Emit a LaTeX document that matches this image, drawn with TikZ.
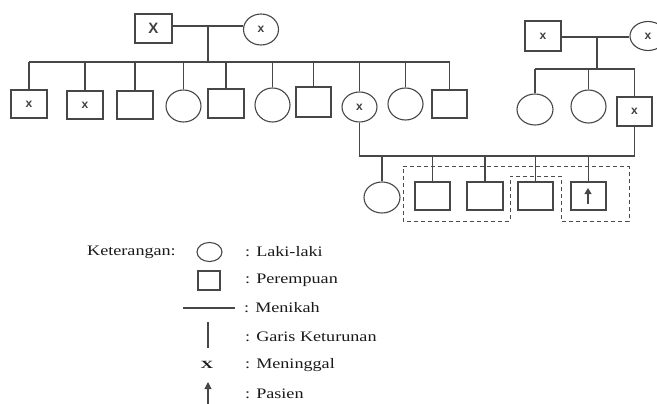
\documentclass[tikz,border=0pt]{standalone}
\usepackage{fontspec}
\setmainfont{Liberation Serif}
\newfontfamily\markfont{Liberation Sans}
\usetikzlibrary{shapes.geometric,arrows.meta}
\newcommand\wtxt[1]{\scalebox{1.25}[1]{#1}}
\tikzset{
  ln/.style={draw=black!72, line width=1.1pt},
  sq/.style={rectangle, ln, minimum width=36pt, minimum height=29pt, inner sep=0pt, font=\markfont\bfseries\fontsize{12}{12}\selectfont, text=black!75},
  ci/.style={ellipse, ln, minimum width=35pt, minimum height=32pt, inner sep=0pt, font=\markfont\bfseries\fontsize{12}{12}\selectfont, text=black!75},
  dbox/.style={draw=black!70, line width=1pt, dash pattern=on 4pt off 3pt},
  lg/.style={anchor=west, inner sep=0pt, text=black!90, font=\fontsize{14.5}{14.5}\selectfont},
}
\begin{document}
\begin{tikzpicture}[x=1pt,y=-1pt]
\useasboundingbox (0,0) rectangle (657,404);
\clip (0,0) rectangle (657,404);
% top-left couple
\node[sq, minimum width=37pt, font=\markfont\bfseries\fontsize{15}{15}\selectfont] (f1) at (153.5,28.5) {X};
\node[ci, minimum height=31pt] (m1) at (261,29.5) {x};
\draw[ln] (f1.east |- 0,26) -- (m1.west |- 0,26);
\coordinate (d1) at (208,26);
\coordinate (s1) at (208,62);
\draw[ln] (d1) -- (s1);
% children
\node[sq, minimum height=28pt] (c1) at (29,104) {x};
\node[sq, minimum height=28pt] (c2) at (85,105) {x};
\node[sq, minimum height=28pt] (c3) at (135,105) {};
\node[ci] (c4) at (183.5,106) {};
\node[sq] (c5) at (226,103.5) {};
\node[ci, minimum height=34pt] (c6) at (272.5,105) {};
\node[sq, minimum width=35pt, minimum height=30pt] (c7) at (313.5,102) {};
\node[ci, minimum height=30pt] (c8) at (359.5,107) {x};
\node[ci] (c9) at (405.5,104) {};
\node[sq, minimum width=35pt, minimum height=28pt] (c10) at (449.5,104) {};
\draw[ln] (c1.north |- s1) -- (c10.north |- s1);
\foreach \c in {c1,c2,c3,c4,c5,c6,c7,c8,c9,c10}{\draw[ln] (\c.north |- s1) -- (\c.north);}
% right couple
\node[sq, minimum height=30pt] (f2) at (543,36) {x};
\node[ci, minimum width=36pt, minimum height=29pt] (m2) at (648,36) {x};
\draw[ln] (f2.east |- 0,37) -- (m2.west |- 0,37);
\coordinate (d2) at (597,37);
\coordinate (s2) at (597,69);
\draw[ln] (d2) -- (s2);
\node[ci, minimum width=36pt, minimum height=31pt] (r1) at (535,109.5) {};
\node[ci, minimum height=33pt] (r2) at (588.5,106.5) {};
\node[sq, minimum width=35pt] (r3) at (634.5,111.5) {x};
\draw[ln] (r1.north |- s2) -- (r3.north |- s2);
\foreach \c in {r1,r2,r3}{\draw[ln] (\c.north |- s2) -- (\c.north);}
% marriage of c8 and r3
\coordinate (cp) at (500,156);
\draw[ln] (c8.south) -- (c8.south |- cp) -- (r3.south |- cp) -- (r3.south);
% grandchildren
\node[ci, minimum width=36pt, minimum height=31pt] (g1) at (382,197.5) {};
\node[sq, minimum width=35pt, minimum height=28pt] (g2) at (432.5,196) {};
\node[sq, minimum height=28pt] (g3) at (485,196) {};
\node[sq, minimum width=35pt, minimum height=28pt] (g4) at (535.5,196) {};
\node[sq, minimum width=35pt, minimum height=28pt] (g5) at (588.5,196) {};
\foreach \c in {g1,g2,g3,g4,g5}{\draw[ln] (\c.north |- cp) -- (\c.north);}
\coordinate (pa) at (588,204);
\coordinate (pb) at (588,188);
\draw[ln, -{Triangle[length=6pt,width=7pt]}] (pa) -- (pb);
% dashed outline
\draw[dbox] (403,167) -- (629,167) -- (629,221) -- (561,221) -- (561,176) -- (510,176) -- (510,221) -- (403,221) -- cycle;
% legend
\node[lg] (kt) at (87,252) {\wtxt{Keterangan:}};
\node[ellipse, ln, minimum width=25pt, minimum height=19pt, inner sep=0pt] (lc) at (209.5,252) {};
\node[lg] (t1) at (245,252) {\wtxt{: Laki-laki}};
\node[rectangle, ln, minimum width=22pt, minimum height=19pt, inner sep=0pt] (ls) at (209,280.5) {};
\node[lg] (t2) at (245,280.5) {\wtxt{: Perempuan}};
\coordinate (la) at (183,308);
\coordinate (lb) at (235,308);
\draw[ln] (la) -- (lb);
\node[lg] (t3) at (244,308) {\wtxt{: Menikah}};
\coordinate (lv1) at (208,322);
\coordinate (lv2) at (208,348);
\draw[ln] (lv1) -- (lv2);
\node[lg] (t4) at (245,337) {\wtxt{: Garis Keturunan}};
\node[inner sep=0pt, text=black!90, font=\bfseries\fontsize{11}{11}\selectfont] (lx) at (207,365) {\scalebox{1.6}[1]{X}};
\node[lg] (t5) at (245,365) {\wtxt{: Meninggal}};
\coordinate (lr1) at (208,406);
\coordinate (lr2) at (208,382);
\draw[ln, -{Triangle[length=7pt,width=7pt]}] (lr1) -- (lr2);
\node[lg] (t6) at (245,394) {\wtxt{: Pasien}};
\end{tikzpicture}
\end{document}
